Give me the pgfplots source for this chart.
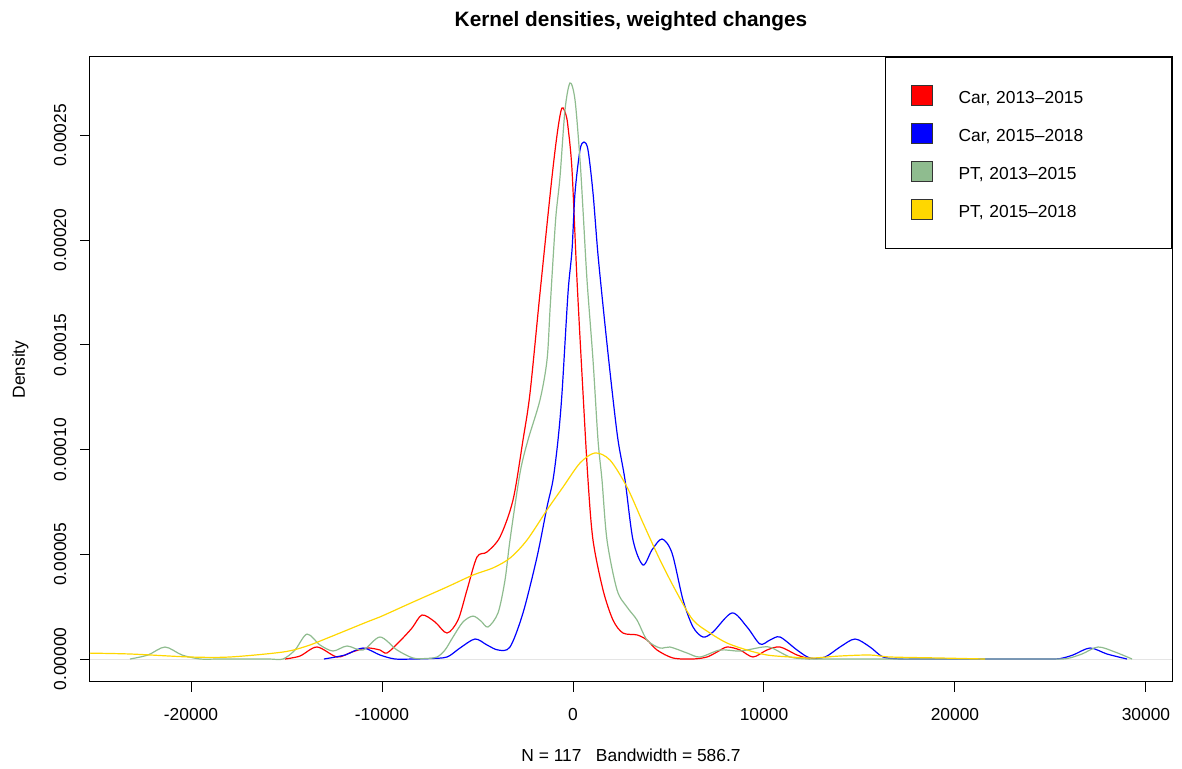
\documentclass[border=0pt]{standalone}
\usepackage{fontspec}
\setmainfont{Liberation Sans}
\usepackage{pgfplots}
\pgfplotsset{compat=1.18}
\definecolor{cred}{RGB}{255,0,0}
\definecolor{cblue}{RGB}{0,0,255}
\definecolor{cgreen}{RGB}{143,188,143}
\definecolor{cgold}{RGB}{255,215,0}
\newcommand{\sz}{\fontsize{8.7}{10.4}\selectfont}
\begin{document}
\begin{tikzpicture}
\useasboundingbox (-45pt,-43.5pt) rectangle (546pt,341pt);
\begin{axis}[
  scale only axis, width=541pt, height=312.5pt,
  xmin=-25290, xmax=31364, ymin=-0.00001098, ymax=0.0002875,
  axis line style={black, line width=0.5pt},
  tick align=outside, major tick length=5pt, tick style={black, line width=0.5pt},
  xtick pos=bottom, ytick pos=left,
  xtick={-20000,-10000,0,10000,20000,30000},
  xticklabels={-20000,-10000,0,10000,20000,30000},
  ytick={0,0.00005,0.0001,0.00015,0.0002,0.00025},
  yticklabels={0.00000,0.00005,0.00010,0.00015,0.00020,0.00025},
  scaled x ticks=false, scaled y ticks=false,
  tick label style={font=\sz},
  xticklabel style={anchor=base, yshift=-14.1pt},
  yticklabel style={rotate=90, anchor=base, yshift=6.9pt},
  title={Kernel densities, weighted changes},
  title style={at={([yshift=9.3pt]axis description cs:0.5,1)}, anchor=base, font=\fontsize{10.4}{12}\selectfont\bfseries},
  xlabel={N = 117\ \ \ Bandwidth = 586.7},
  xlabel style={at={([yshift=-39.6pt]axis description cs:0.5,0)}, anchor=base, font=\sz},
  ylabel={Density},
  ylabel style={at={([xshift=-32.6pt]axis description cs:0,0.5)}, anchor=base, font=\sz},
  legend style={at={(1,1)}, anchor=north east, draw=black, line width=0.5pt, fill=white,
    inner xsep=12.5pt, inner ysep=14pt, row sep=8.45pt, column sep=13pt, font=\sz,
    nodes={inner sep=0pt, text width=94pt, align=left}},
  legend cell align=left,
  every axis plot/.append style={line width=0.6pt, smooth, tension=0.5},
]
\addlegendimage{legend image code/.code={\draw[fill=cred, draw=black!80, line width=0.4pt] (0pt,-3.2pt) rectangle (10.5pt,6.5pt);}}
\addlegendentry{Car, 2013–2015}
\addlegendimage{legend image code/.code={\draw[fill=cblue, draw=black!80, line width=0.4pt] (0pt,-3.2pt) rectangle (10.5pt,6.5pt);}}
\addlegendentry{Car, 2015–2018}
\addlegendimage{legend image code/.code={\draw[fill=cgreen, draw=black!80, line width=0.4pt] (0pt,-3.2pt) rectangle (10.5pt,6.5pt);}}
\addlegendentry{PT, 2013–2015}
\addlegendimage{legend image code/.code={\draw[fill=cgold, draw=black!80, line width=0.4pt] (0pt,-3.2pt) rectangle (10.5pt,6.5pt);}}
\addlegendentry{PT, 2015–2018}

\addplot[gray!20, line width=0.3pt, sharp plot, forget plot] coordinates {(-25290,0) (31364,0)};

% Car, 2013-2015
\addplot[cred, forget plot] coordinates {
(-15080,0) (-14294,0.00000143) (-13404,0.00000573) (-12357,0.00000096) (-11572,0.00000334)
(-10786,0.00000525) (-10105,0.0000043) (-9739,0.00000287) (-9058,0.0000086) (-8430,0.0000148)
(-7906,0.000021) (-7226,0.0000177) (-6597,0.0000124) (-6021,0.0000186) (-5550,0.000033)
(-5027,0.0000487) (-4503,0.0000511) (-3822,0.0000583) (-3142,0.0000759) (-2618,0.0001046)
(-2251,0.000127) (-1728,0.0001748) (-1100,0.0002302) (-785,0.0002536) (-576,0.0002632)
(-367,0.0002598) (-262,0.0002541) (-52,0.0002335) (209,0.000181) (524,0.000127)
(785,0.0000855) (1047,0.0000568) (1571,0.000033) (2094,0.0000186) (2618,0.0000124)
(3351,0.0000115) (3875,0.00000907) (4398,0.0000043) (5236,0.00000048) (6283,0)
(7016,0.00000096) (7540,0.00000334) (8063,0.00000573) (8744,0.0000043) (9425,0.00000096)
(10158,0.0000043) (10839,0.00000573) (11729,0.00000191) (12409,0)
};

% Car, 2015-2018
\addplot[cblue, forget plot] coordinates {
(-13038,0) (-11938,0.00000191) (-10996,0.00000525) (-10105,0.00000191) (-9320,0)
(-8378,0) (-7500,0.0000002) (-6597,0.00000096) (-5917,0.00000525) (-5131,0.00000955) (-4503,0.00000669)
(-3927,0.0000043) (-3299,0.00000573) (-2618,0.000022) (-1885,0.0000487) (-1361,0.0000726)
(-1047,0.0000855) (-785,0.0001046) (-576,0.000127) (-262,0.0001748) (-52,0.0001953)
(105,0.0002226) (367,0.0002431) (576,0.0002469) (785,0.0002431) (1047,0.0002226)
(1309,0.000193) (1676,0.0001595) (2042,0.0001285) (2356,0.0001046) (2723,0.0000855)
(3142,0.0000568) (3665,0.0000449) (4136,0.0000521) (4660,0.0000573) (5184,0.0000506)
(5760,0.0000282) (6283,0.0000153) (6807,0.0000105) (7330,0.0000129) (8325,0.000022)
(9111,0.0000153) (9791,0.00000716) (10315,0.00000907) (10839,0.0000105) (11729,0.0000043)
(12409,0.00000048) (13195,0.00000096) (13980,0.00000573) (14766,0.00000955) (15551,0.00000573)
(16232,0.00000096) (17122,0) (18000,0) (19000,0) (20000,0) (21000,0) (22000,0) (23000,0)
(24000,0) (24800,0) (25499,0.0000002) (26180,0.00000191) (27070,0.00000525)
(27960,0.00000239) (29007,0)
};

% PT, 2013-2015
\addplot[cgreen, forget plot] coordinates {
(-23195,0) (-22253,0.00000191) (-21363,0.00000573) (-20473,0.00000191) (-19530,0)
(-18600,0) (-17700,0) (-16800,0) (-15900,0)
(-15184,0) (-14556,0.0000043) (-13928,0.0000119) (-13247,0.00000669) (-12566,0.00000382)
(-11833,0.00000621) (-10996,0.0000043) (-10105,0.0000105) (-9215,0.0000043) (-8378,0.00000048)
(-7700,0.00000024) (-7121,0.00000096) (-6702,0.0000043) (-6283,0.0000105) (-5760,0.0000177) (-5236,0.0000205)
(-4817,0.0000181) (-4451,0.0000153) (-3927,0.000022) (-3560,0.0000377) (-3299,0.0000568)
(-2775,0.0000888) (-2356,0.0001046) (-1728,0.0001237) (-1361,0.0001428) (-1204,0.0001667)
(-1047,0.0001906) (-890,0.0002121) (-681,0.0002302) (-419,0.0002622) (-157,0.0002751)
(105,0.000267) (367,0.0002383) (524,0.0002144) (733,0.000181) (1047,0.0001428)
(1309,0.0001046) (1518,0.0000855) (1780,0.0000568) (2304,0.000033) (2827,0.0000248)
(3351,0.0000186) (3875,0.00000907) (4555,0.00000525) (5079,0.00000573) (5969,0.00000287)
(6650,0.00000096) (7697,0.0000043) (8744,0.00000382) (9948,0.00000573) (10420,0.00000525)
(11362,0.00000096) (12252,0) (13200,0) (14200,0) (15200,0) (16200,0) (17200,0) (18200,0)
(19200,0) (20200,0) (21200,0) (22200,0) (23200,0) (24200,0) (25100,0)
(25865,0.0000002) (26651,0.00000239) (27489,0.00000573)
(28379,0.00000334) (29269,0)
};

% PT, 2015-2018
\addplot[cgold, forget plot] coordinates {
(-25813,0.00000287) (-23195,0.00000239) (-20054,0.00000096) (-17959,0.00000096) (-15184,0.00000334)
(-13928,0.00000621) (-12723,0.0000105) (-10786,0.0000177) (-10105,0.0000201) (-8378,0.0000272)
(-6597,0.0000344) (-5236,0.0000401) (-4189,0.0000435) (-3299,0.0000482) (-2409,0.0000568)
(-1361,0.0000712) (-524,0.0000821) (367,0.0000936) (1152,0.0000984) (1937,0.000095)
(2827,0.0000821) (3665,0.000065) (4555,0.0000473) (5445,0.0000315) (6283,0.0000186)
(7173,0.0000124) (8063,0.00000764) (9111,0.0000043) (10158,0.00000191) (11362,0.00000096)
(12566,0.00000048) (13980,0.00000143) (15551,0.00000191) (16598,0.00000096) (19216,0.00000048)
(21572,0)
};
\end{axis}
\end{tikzpicture}
\end{document}
